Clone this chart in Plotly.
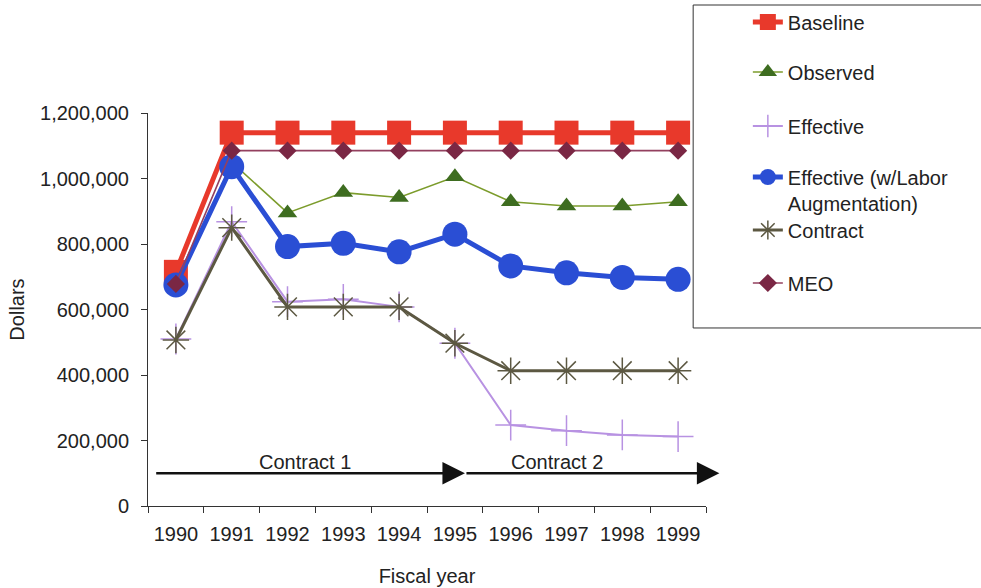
import plotly.graph_objects as go

# Fiscal years and cost series (dollars)
years = ["1990", "1991", "1992", "1993", "1994", "1995", "1996", "1997", "1998", "1999"]
baseline = [715000, 1140000, 1140000, 1140000, 1140000, 1140000, 1140000, 1140000, 1140000, 1140000]
observed = [None, 1050000, 895000, 957000, 942000, 1005000, 929000, 916000, 916000, 929000]
effective = [510000, 868000, 624000, 631000, 608000, 497000, 247000, 230000, 217000, 212000]
effective_labor = [675000, 1036000, 792000, 802000, 776000, 830000, 733000, 712000, 698000, 692000]
contract = [507000, 850000, 608000, 608000, 608000, 497000, 413000, 413000, 413000, 413000]
meo = [678000, 1085000, 1085000, 1085000, 1085000, 1085000, 1085000, 1085000, 1085000, 1085000]

y_ticks = [0, 200000, 400000, 600000, 800000, 1000000, 1200000]

FONT = "Liberation Sans, Arial, Helvetica, sans-serif"
TXT = "#222222"
FS = 20

series = [
    dict(name="Baseline", y=baseline, line=dict(color="#e8392b", width=5),
         marker=dict(symbol="square", size=24, color="#e8392b")),
    dict(name="Observed", y=observed, line=dict(color="#7c9c2c", width=1.6),
         marker=dict(symbol="triangle-up", size=17, color="#3e6d20")),
    dict(name="Effective", y=effective, line=dict(color="#b892e2", width=2),
         marker=dict(symbol="cross-thin-open", size=22, color="#b892e2",
                     line=dict(color="#b892e2", width=1.5))),
    dict(name="Effective (w/Labor<br>Augmentation)", y=effective_labor,
         line=dict(color="#2a4ed4", width=5),
         marker=dict(symbol="circle", size=25, color="#2a4ed4")),
    dict(name="Contract", y=contract, line=dict(color="#5c5842", width=3),
         marker=dict(symbol="asterisk-open", size=22, color="#5c5842",
                     line=dict(color="#5c5842", width=1.5))),
    dict(name="MEO", y=meo, line=dict(color="#93405f", width=1.6),
         marker=dict(symbol="diamond", size=14, color="#7a2744")),
]

# one single-entry legend per series so the entries can be spaced freely
legend_y = [1.2316, 1.1043, 0.9669, 0.804, 0.7023, 0.5674]
legend_x = 1.075

fig = go.Figure()
for i, s in enumerate(series):
    key = "legend" if i == 0 else f"legend{i + 1}"
    fig.add_trace(go.Scatter(x=years, y=s["y"], name=s["name"], mode="lines+markers",
                             line=s["line"], marker=s["marker"], legend=key))

legends = {}
for i, ly in enumerate(legend_y):
    key = "legend" if i == 0 else f"legend{i + 1}"
    legends[key] = dict(x=legend_x, y=ly, xanchor="left", yanchor="middle",
                        bgcolor="rgba(0,0,0,0)", borderwidth=0, valign="top",
                        font=dict(family=FONT, size=FS, color=TXT),
                        itemsizing="trace")

# contract period arrows and labels
arrow_y = 100000
label_y = 135000
fig.add_annotation(x=5.18, y=arrow_y, ax=-0.38, ay=arrow_y, xref="x", yref="y",
                   axref="x", ayref="y", showarrow=True, arrowhead=2, arrowsize=1.8,
                   arrowwidth=2.5, arrowcolor="#111111", text="")
fig.add_annotation(x=9.74, y=arrow_y, ax=5.18, ay=arrow_y, xref="x", yref="y",
                   axref="x", ayref="y", showarrow=True, arrowhead=2, arrowsize=1.8,
                   arrowwidth=2.5, arrowcolor="#111111", text="")
fig.add_annotation(x=2.31, y=label_y, xref="x", yref="y", text="Contract 1",
                   showarrow=False, font=dict(family=FONT, size=FS, color=TXT))
fig.add_annotation(x=6.83, y=label_y, xref="x", yref="y", text="Contract 2",
                   showarrow=False, font=dict(family=FONT, size=FS, color=TXT))

# legend frame
fig.add_shape(type="rect", xref="paper", yref="paper", x0=0.977, x1=1.6,
              y0=0.453, y1=1.2748, line=dict(color="#333333", width=1),
              fillcolor="rgba(0,0,0,0)", layer="below")

fig.update_layout(
    width=981, height=588,
    margin=dict(l=148, r=275, t=113, b=82, autoexpand=False),
    paper_bgcolor="white", plot_bgcolor="white",
    font=dict(family=FONT, size=FS, color=TXT),
    showlegend=True,
    **legends,
)
fig.update_xaxes(type="category", categoryorder="array", categoryarray=years,
                 range=[-0.5, 9.5],
                 tickson="boundaries", ticks="outside", ticklen=6, tickwidth=1,
                 tickcolor="#333333", showline=True, linecolor="#333333", linewidth=1,
                 showgrid=False, zeroline=False, ticklabelstandoff=10, tickangle=0,
                 automargin=False,
                 tickfont=dict(family=FONT, size=FS, color=TXT),
                 title=dict(text="Fiscal year", standoff=24,
                            font=dict(family=FONT, size=FS, color=TXT)))
fig.update_yaxes(range=[0, 1200000], tickvals=y_ticks, tickformat=",d",
                 ticks="outside", ticklen=6, tickwidth=1, tickcolor="#333333",
                 showline=True, linecolor="#333333", linewidth=1,
                 showgrid=False, zeroline=False, ticklabelstandoff=8,
                 automargin=False,
                 tickfont=dict(family=FONT, size=FS, color=TXT),
                 title=dict(text="Dollars", standoff=10,
                            font=dict(family=FONT, size=FS, color=TXT)))

fig.write_html("out.html")
